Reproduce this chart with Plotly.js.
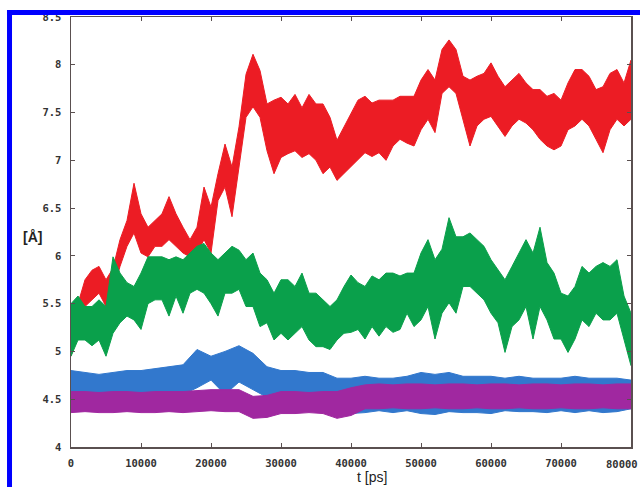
<!DOCTYPE html>
<html>
<head>
<meta charset="utf-8">
<script src="https://cdn.plot.ly/plotly-3.0.1.min.js"></script>
<style>html,body{margin:0;padding:0;background:#fff;}#chart{width:640px;height:487px;}</style>
</head>
<body>
<div id="chart"></div>
<script>
// time grid (ps)
const tFine = [0,1000,2000,3000,4000,5000,6000,7000,8000,9000,10000,11000,12000,13000,14000,15000,16000,17000,18000,19000,20000,21000,22000,23000,24000,25000,26000,27000,28000,29000,30000,31000,32000,33000,34000,35000,36000,37000,38000,39000,40000,41000,42000,43000,44000,45000,46000,47000,48000,49000,50000,51000,52000,53000,54000,55000,56000,57000,58000,59000,60000,61000,62000,63000,64000,65000,66000,67000,68000,69000,70000,71000,72000,73000,74000,75000,76000,77000,78000,79000,80000];
const tCoarse = [0,2000,4000,6000,8000,10000,12000,14000,16000,18000,20000,22000,24000,26000,28000,30000,32000,34000,36000,38000,40000,42000,44000,46000,48000,50000,52000,54000,56000,58000,60000,62000,64000,66000,68000,70000,72000,74000,76000,78000,80000];

// red series envelope (Å)
const redLo = [4.95,5.2,5.47,5.54,5.61,5.47,5.63,5.89,6.1,6.24,6.03,5.99,6.1,6.1,6.17,6.1,6.03,5.99,6.03,6.17,6.03,6.58,6.72,6.41,6.93,7.45,7.56,7.45,7.1,6.86,7.03,7.07,7.1,7.03,7.07,7.0,6.86,6.93,6.79,6.86,6.93,7.0,7.08,7.04,7.08,7.0,7.15,7.22,7.18,7.15,7.32,7.43,7.29,7.7,7.77,7.7,7.43,7.15,7.36,7.43,7.46,7.36,7.25,7.36,7.43,7.39,7.32,7.22,7.15,7.11,7.15,7.32,7.36,7.43,7.36,7.22,7.08,7.32,7.43,7.36,7.43];
const redHi = [5.3,5.5,5.75,5.85,5.89,5.75,5.87,6.17,6.37,6.76,6.44,6.3,6.37,6.44,6.62,6.44,6.3,6.17,6.3,6.72,6.51,6.86,7.17,6.93,7.35,7.9,8.11,7.94,7.59,7.63,7.66,7.59,7.69,7.55,7.69,7.59,7.59,7.45,7.21,7.35,7.49,7.63,7.67,7.6,7.63,7.63,7.63,7.67,7.67,7.67,7.84,7.95,7.84,8.16,8.26,8.16,7.88,7.84,7.88,7.91,8.02,7.88,7.77,7.84,7.91,7.81,7.74,7.74,7.67,7.7,7.63,7.81,7.95,7.95,7.88,7.74,7.77,7.91,7.95,7.81,8.05];

// green series envelope (Å)
const greenLo = [4.95,5.12,5.12,5.06,5.12,4.95,5.19,5.3,5.37,5.33,5.23,5.5,5.54,5.54,5.37,5.58,5.4,5.61,5.65,5.61,5.5,5.37,5.61,5.61,5.65,5.47,5.47,5.26,5.3,5.12,5.19,5.12,5.19,5.26,5.12,5.05,5.05,5.02,5.12,5.19,5.2,5.23,5.13,5.26,5.16,5.26,5.2,5.23,5.4,5.26,5.33,5.47,5.13,5.4,5.51,5.4,5.68,5.68,5.61,5.54,5.4,5.3,4.99,5.26,5.33,5.47,5.13,5.47,5.33,5.13,5.13,4.99,5.13,5.33,5.26,5.4,5.33,5.33,5.4,5.13,4.85];
const greenHi = [5.5,5.58,5.47,5.47,5.54,5.47,5.99,5.82,5.72,5.68,5.82,5.99,5.99,5.99,5.96,5.99,5.96,6.03,6.1,6.13,6.03,5.96,6.03,6.1,6.06,5.96,6.03,5.82,5.75,5.61,5.75,5.75,5.68,5.82,5.61,5.61,5.54,5.47,5.54,5.68,5.8,5.72,5.68,5.79,5.75,5.82,5.82,5.79,5.82,5.82,6.03,6.17,5.96,6.07,6.4,6.2,6.2,6.24,6.17,6.1,5.96,5.86,5.75,5.89,6.03,6.17,6.03,6.3,5.93,5.82,5.61,5.58,5.68,5.89,5.82,5.89,5.93,5.89,5.96,5.58,5.4];

// blue series envelope (Å)
const blueLo = [4.5,4.5,4.52,4.5,4.52,4.52,4.52,4.52,4.55,4.62,4.7,4.55,4.68,4.6,4.52,4.5,4.5,4.5,4.48,4.4,4.35,4.36,4.38,4.36,4.38,4.35,4.34,4.37,4.36,4.36,4.35,4.38,4.37,4.37,4.36,4.38,4.36,4.38,4.36,4.37,4.4];
const blueHi = [4.8,4.78,4.76,4.78,4.8,4.8,4.82,4.84,4.86,5.02,4.95,5.0,5.06,4.98,4.84,4.8,4.8,4.78,4.78,4.72,4.72,4.74,4.72,4.72,4.74,4.78,4.76,4.78,4.74,4.74,4.74,4.72,4.74,4.72,4.72,4.72,4.74,4.72,4.72,4.72,4.7];

// purple series envelope (Å)
const purpleLo = [4.36,4.37,4.36,4.36,4.37,4.36,4.36,4.37,4.36,4.37,4.38,4.37,4.37,4.3,4.31,4.35,4.35,4.36,4.35,4.3,4.33,4.4,4.4,4.41,4.4,4.4,4.41,4.4,4.4,4.41,4.4,4.4,4.41,4.4,4.4,4.41,4.4,4.4,4.41,4.4,4.4];
const purpleHi = [4.58,4.58,4.57,4.58,4.58,4.57,4.58,4.58,4.58,4.59,4.6,4.6,4.6,4.53,4.54,4.58,4.58,4.57,4.58,4.58,4.62,4.65,4.66,4.65,4.66,4.66,4.65,4.66,4.66,4.65,4.66,4.66,4.65,4.66,4.66,4.65,4.66,4.66,4.65,4.66,4.66];

const xTicks = [0,10000,20000,30000,40000,50000,60000,70000,80000];
const yTicks = [4,4.5,5,5.5,6,6.5,7,7.5,8,8.5];

const series = [
  {t: tFine, lo: redLo, hi: redHi, color: 'rgb(236,28,36)'},
  {t: tFine, lo: greenLo, hi: greenHi, color: 'rgb(10,160,75)'},
  {t: tCoarse, lo: blueLo, hi: blueHi, color: 'rgb(50,120,205)'},
  {t: tCoarse, lo: purpleLo, hi: purpleHi, color: 'rgb(160,40,160)'}
];

const traces = [];
series.forEach(s => {
  traces.push({x: s.t, y: s.lo, mode: 'lines', line: {color: s.color, width: 1}, showlegend: false, hoverinfo: 'skip'});
  traces.push({x: s.t, y: s.hi, mode: 'lines', fill: 'tonexty', fillcolor: s.color, line: {color: s.color, width: 1}, showlegend: false, hoverinfo: 'skip'});
});

const lastX = xTicks[xTicks.length - 1];
const tickFont = {family: 'DejaVu Sans Mono', size: 10.5, color: '#333', weight: 'bold'};

const axisCommon = {
  showgrid: false, zeroline: false, showline: true, linecolor: '#5a5050', linewidth: 1.5,
  ticks: 'inside', ticklen: 4, tickcolor: '#5a5050', tickwidth: 1, mirror: 'ticks',
  tickfont: tickFont
};

const layout = {
  width: 640, height: 487,
  margin: {l: 71, r: 9, t: 17, b: 40, pad: 0},
  paper_bgcolor: '#fff', plot_bgcolor: '#fff',
  showlegend: false,
  xaxis: Object.assign({}, axisCommon, {range: [0, 80000], tickvals: xTicks,
    ticktext: xTicks.map(v => v === lastX ? '' : String(v)), ticklabelstandoff: 6}),
  yaxis: Object.assign({}, axisCommon, {range: [4, 8.5], tickvals: yTicks, ticktext: yTicks.map(String), ticklabelstandoff: 6}),
  annotations: [
    {text: String(lastX), xref: 'x', yref: 'paper', x: lastX, xshift: 9, y: 0, yshift: -9, xanchor: 'right', yanchor: 'top',
     showarrow: false, font: tickFont},
    {text: 't [ps]', xref: 'paper', yref: 'paper', x: 0.5375, y: -0.0925, xanchor: 'center', yanchor: 'bottom', showarrow: false,
     font: {family: 'Liberation Sans', size: 14, color: '#222'}},
    {text: '[Å]', xref: 'paper', yref: 'paper', x: -0.068, y: 0.488, xanchor: 'center', yanchor: 'middle', showarrow: false,
     font: {family: 'Liberation Sans', size: 14, color: '#222', weight: 'bold'}}
  ],
  shapes: [
    {type: 'line', xref: 'paper', yref: 'paper', x0: -0.1143, x1: 1.2, y0: 1.0105, y1: 1.0105, line: {color: 'rgb(0,0,255)', width: 5}, layer: 'above'},
    {type: 'line', xref: 'paper', yref: 'paper', x0: -0.1098, x1: -0.1098, y0: 1.0163, y1: -0.2, line: {color: 'rgb(0,0,255)', width: 5}, layer: 'above'}
  ]
};

Plotly.newPlot('chart', traces, layout, {staticPlot: true, displayModeBar: false});
</script>
</body>
</html>
